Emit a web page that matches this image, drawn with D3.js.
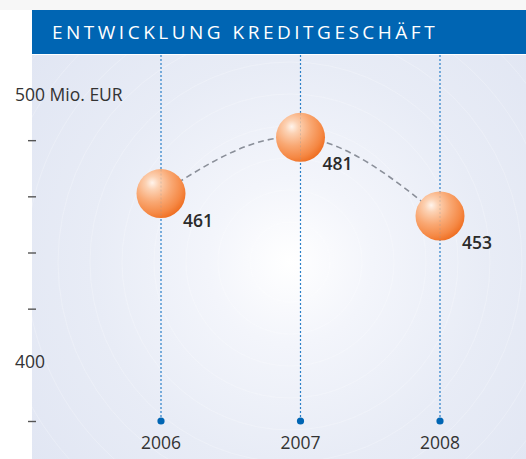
<!DOCTYPE html>
<html><head><meta charset="utf-8">
<script src="https://cdn.jsdelivr.net/npm/d3@7"></script>
<style>
html,body{margin:0;padding:0;background:#fff;}
svg{display:block;font-family:"Open Sans",sans-serif;}
</style></head>
<body>
<svg id="c" width="526" height="459"></svg>
<script>
const title = "ENTWICKLUNG KREDITGESCHÄFT";
const years = ["2006","2007","2008"];
const values = [461, 481, 453];
const tickValues = [380, 420, 440, 460, 480];
const axisLabels = [{v:500, t:"500 Mio. EUR"}, {v:400, t:"400"}];

const svg = d3.select("#c");
const W = 526, H = 459;
const plot = {x0:32, y0:55, x1:526, y1:459};

const defs = svg.append("defs");
const bg = defs.append("radialGradient").attr("id","bg")
  .attr("gradientUnits","userSpaceOnUse").attr("cx",290).attr("cy",262).attr("r",330);
bg.append("stop").attr("offset","0%").attr("stop-color","#ffffff");
bg.append("stop").attr("offset","25%").attr("stop-color","#f3f5fb");
bg.append("stop").attr("offset","60%").attr("stop-color","#e8ecf6");
bg.append("stop").attr("offset","100%").attr("stop-color","#e1e6f3");

const ball = defs.append("radialGradient").attr("id","ball")
  .attr("cx","35%").attr("cy","32%").attr("r","75%").attr("fx","32%").attr("fy","28%");
ball.append("stop").attr("offset","0%").attr("stop-color","#fff4ec");
ball.append("stop").attr("offset","18%").attr("stop-color","#fcd2b4");
ball.append("stop").attr("offset","50%").attr("stop-color","#f9a873");
ball.append("stop").attr("offset","80%").attr("stop-color","#f58844");
ball.append("stop").attr("offset","100%").attr("stop-color","#ee6a1c");

// header shadow + bar
svg.append("rect").attr("x",0).attr("y",0).attr("width",W).attr("height",10).attr("fill","#f7f7f7");
svg.append("rect").attr("x",plot.x0).attr("y",10).attr("width",W-plot.x0).attr("height",44).attr("fill","#0065b3");
svg.append("text").attr("x",52).attr("y",38.5).attr("fill","#fff")
  .attr("font-size",19).attr("letter-spacing",3.5).text(title);

// plot background
svg.append("rect").attr("x",plot.x0).attr("y",plot.y0).attr("width",plot.x1-plot.x0).attr("height",plot.y1-plot.y0).attr("fill","url(#bg)");
const clip = defs.append("clipPath").attr("id","pc");
clip.append("rect").attr("x",plot.x0).attr("y",plot.y0).attr("width",plot.x1-plot.x0).attr("height",plot.y1-plot.y0);
const rings = svg.append("g").attr("clip-path","url(#pc)");
d3.range(40, 420, 32).forEach(r => {
  rings.append("circle").attr("cx",290).attr("cy",262).attr("r",r)
    .attr("fill","none").attr("stroke","#ffffff").attr("stroke-opacity",0.3).attr("stroke-width",0.8);
});

const x = d3.scalePoint().domain(years).range([161, 440]);
const y = d3.scaleLinear().domain([380, 500]).range([421, 84]);

// y axis ticks
const ax = svg.append("g").attr("transform","translate(36,0)")
  .call(d3.axisLeft(y).tickValues(tickValues).tickSize(8).tickFormat(""));
ax.select(".domain").remove();
ax.selectAll(".tick line").attr("stroke","#555").attr("stroke-width",1.4);

svg.selectAll(".ylab").data(axisLabels).enter().append("text")
  .attr("x",15).attr("y",d => y(d.v) + (d.v===500 ? 17 : 3))
  .attr("font-size",17.5).attr("fill","#333").text(d => d.t);

// vertical dotted lines
svg.selectAll(".vl").data(years).enter().append("line")
  .attr("x1",d=>x(d)).attr("x2",d=>x(d)).attr("y1",plot.y0).attr("y2",y(380))
  .attr("stroke","#2a7fc8").attr("stroke-width",1.2).attr("stroke-dasharray","2,2");
svg.selectAll(".dot").data(years).enter().append("circle")
  .attr("cx",d=>x(d)).attr("cy",y(380)).attr("r",3.6).attr("fill","#0065b3");
svg.selectAll(".xl").data(years).enter().append("text")
  .attr("x",d=>x(d)).attr("y",y(380)+28).attr("text-anchor","middle")
  .attr("font-size",17.5).attr("fill","#333").text(d=>d);

// dashed connecting curve
const pts = years.map((yr,i)=>[x(yr), y(values[i])]);
svg.append("path").attr("d", d3.line().curve(d3.curveNatural)(pts))
  .attr("fill","none").attr("stroke","#8a8f99").attr("stroke-width",1.6).attr("stroke-dasharray","6,4");

// balls
svg.selectAll(".ball").data(values).enter().append("circle")
  .attr("cx",(d,i)=>x(years[i])).attr("cy",d=>y(d)).attr("r",24.5).attr("fill","url(#ball)");
// faint lines through balls
svg.selectAll(".vl2").data(values).enter().append("line")
  .attr("x1",(d,i)=>x(years[i])).attr("x2",(d,i)=>x(years[i])).attr("y1",d=>y(d)-24).attr("y2",d=>y(d)+24)
  .attr("stroke","#999").attr("stroke-opacity",0.35).attr("stroke-dasharray","2,2");

svg.selectAll(".vlab").data(values).enter().append("text")
  .attr("x",(d,i)=>x(years[i])+22).attr("y",d=>y(d)+33)
  .attr("font-size",17.5).attr("font-weight",600).attr("fill","#2b2b2b").text(d=>d);
</script>
</body></html>
